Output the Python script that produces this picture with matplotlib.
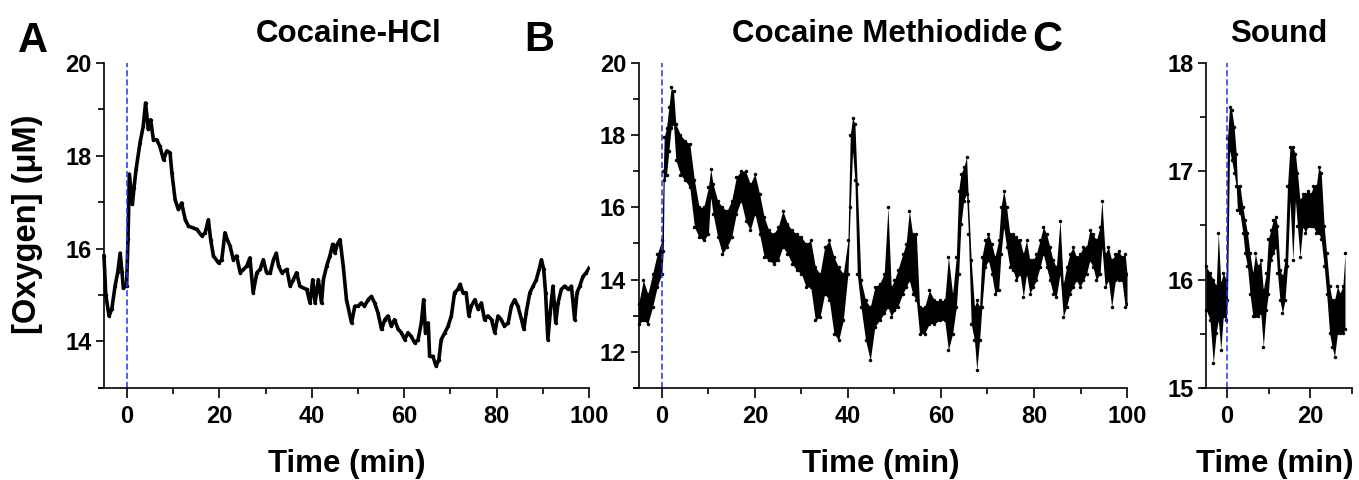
import matplotlib
matplotlib.use("Agg")
import matplotlib.pyplot as plt
from matplotlib.ticker import MultipleLocator

plt.rcParams["font.family"] = ["Liberation Sans", "DejaVu Sans"]
plt.rcParams["font.weight"] = "bold"

# Panel A - Cocaine-HCl (single trace)
a_time = [-5.0, -4.6, -3.9, -3.3, -2.6, -2.0, -1.5, -1.1, -0.8, -0.1, 0.2, 0.5,
          0.8, 1.15, 1.5, 1.95, 2.8, 3.5, 4.0, 4.6, 5.1, 5.7, 6.4, 7.1, 7.9,
          8.6, 9.3, 9.7, 10.4, 11.1, 11.8, 12.6, 13.3, 14.4, 15.1, 16.2, 16.9,
          17.6, 18.1, 18.7, 19.8, 20.5, 21.2, 21.7, 22.3, 23.0, 23.7, 24.5,
          25.2, 25.9, 26.6, 27.3, 28.1, 28.8, 29.5, 30.2, 31.0, 31.7, 32.3,
          32.8, 33.5, 34.6, 35.3, 36.0, 36.7, 37.4, 38.2, 38.9, 39.6, 40.2,
          40.7, 41.4, 42.1, 42.5, 43.2, 43.9, 44.5, 45.0, 45.5, 46.1, 46.8,
          47.5, 48.6, 49.3, 50.0, 50.7, 51.4, 52.2, 52.9, 53.6, 54.3, 55.1,
          55.8, 56.5, 57.2, 57.9, 58.7, 59.4, 60.1, 60.8, 61.5, 62.3, 63.0,
          63.7, 64.2, 64.6, 65.2, 65.5, 66.2, 66.9, 67.5, 68.0, 68.8, 69.5,
          70.2, 70.9, 71.6, 72.1, 72.7, 73.4, 74.0, 74.5, 75.3, 76.0, 76.7,
          77.4, 78.1, 78.9, 79.6, 80.3, 81.0, 81.7, 82.5, 83.2, 83.9, 84.6,
          85.4, 85.9, 86.4, 87.2, 87.9, 88.6, 89.2, 89.7, 90.2, 90.6, 91.1,
          91.6, 92.2, 92.8, 93.3, 94.0, 94.7, 95.5, 96.2, 96.9, 97.4, 98.0,
          98.7, 99.4, 100.0]
a_oxygen = [15.84, 15.0, 14.55, 14.7, 15.19, 15.5, 15.9, 15.5, 15.15, 15.2, 16.2,
            17.6, 17.3, 16.95, 17.3, 17.7, 18.27, 18.63, 19.13, 18.56, 18.77,
            18.34, 18.34, 18.2, 17.91, 18.1, 18.06, 17.63, 17.05, 16.84, 16.98,
            16.62, 16.48, 16.44, 16.41, 16.27, 16.34, 16.62, 16.19, 15.84,
            15.69, 15.76, 16.34, 16.19, 16.05, 15.76, 15.84, 15.48, 15.55,
            15.62, 15.8, 15.05, 15.48, 15.55, 15.76, 15.48, 15.48, 15.76, 15.9,
            15.62, 15.48, 15.55, 15.19, 15.33, 15.48, 15.19, 15.15, 15.12,
            14.83, 15.33, 14.83, 15.33, 14.83, 15.33, 15.62, 15.84, 16.09,
            15.9, 16.09, 16.19, 15.62, 14.9, 14.4, 14.76, 14.76, 14.83, 14.76,
            14.9, 14.97, 14.83, 14.62, 14.26, 14.47, 14.55, 14.33, 14.47,
            14.26, 14.19, 14.04, 14.19, 14.11, 13.97, 14.04, 14.4, 14.9, 14.19,
            14.4, 13.68, 13.68, 13.47, 13.61, 14.04, 14.19, 14.33, 14.55,
            15.05, 15.12, 15.23, 15.05, 15.05, 14.55, 14.76, 14.9, 14.69,
            14.83, 14.47, 14.55, 14.47, 14.19, 14.55, 14.47, 14.33, 14.4,
            14.76, 14.9, 14.76, 14.47, 14.26, 14.62, 15.05, 15.19, 15.33,
            15.55, 15.76, 15.55, 15.05, 14.04, 14.62, 15.19, 14.4, 14.83,
            15.12, 15.19, 15.12, 15.19, 14.47, 15.05, 15.19, 15.4, 15.48, 15.58]

# Panel B - Cocaine Methiodide (noisy band: upper / lower edge)
b_time = [-5, -4, -3, -2, -1, 0, 0.3, 0.5, 1, 1.5, 2, 2.5, 3, 4, 5, 6, 7, 8, 9,
          10, 10.5, 11, 12, 13, 14, 15, 16, 17, 18, 19, 20, 21, 22, 23, 24, 25,
          26, 27, 28, 29, 30, 31, 32, 33, 34, 35, 36, 37, 38, 39, 40, 40.5, 41,
          41.5, 42, 42.8, 43.8, 44.8, 45.8, 46.8, 47.8, 48.6, 49.3, 50, 50.7,
          51.8, 52.5, 53.2, 53.9, 54.7, 55.4, 56.5, 57.5, 58.6, 59.7, 60.8,
          61.6, 62.5, 63.3, 63.8, 64.3, 64.9, 65.5, 65.9, 66.5, 67.2, 67.7,
          68.3, 68.8, 69.5, 70.2, 70.9, 71.6, 72.4, 72.9, 73.5, 74.1, 74.8,
          75.5, 76.2, 77.0, 77.7, 78.4, 79.1, 79.8, 80.5, 81.3, 82.0, 82.7,
          83.4, 84.1, 84.8, 85.6, 86.3, 87.0, 87.7, 88.4, 89.1, 89.9, 90.6,
          91.3, 92.0, 92.7, 93.4, 94.2, 94.6, 95.3, 96.0, 96.7, 97.5, 98.2,
          98.9, 99.6, 100]
b_high = [13.33, 13.98, 13.6, 14.16, 14.71, 15.08, 17.0, 17.93, 18.2, 18.76,
          19.31, 19.2, 18.3, 18.0, 17.84, 17.75, 16.74, 16.0, 16.0, 16.55,
          17.06, 16.64, 16.18, 16.0, 15.9, 16.18, 16.83, 17.0, 17.0, 16.64,
          16.92, 16.37, 15.72, 15.36, 15.26, 15.45, 15.9, 15.54, 15.36, 15.26,
          15.17, 14.99, 15.08, 14.34, 14.16, 14.9, 15.08, 14.62, 14.34, 14.16,
          15.08, 18.0, 18.48, 18.3, 16.64, 13.98, 13.42, 13.24, 13.8, 13.88,
          14.16, 16.0, 13.8, 13.98, 14.25, 14.71, 14.99, 15.9, 15.26, 15.26,
          13.24, 13.24, 13.7, 13.42, 13.42, 13.42, 14.62, 13.6, 14.62, 16.46,
          16.92, 17.1, 17.38, 16.18, 14.53, 13.24, 13.42, 13.24, 14.62, 15.08,
          15.26, 14.99, 14.62, 15.08, 16.0, 16.46, 16.0, 15.26, 15.26, 15.17,
          15.08, 14.71, 15.08, 14.53, 14.53, 14.71, 15.08, 15.45, 15.26, 14.9,
          14.53, 14.34, 15.63, 13.88, 14.34, 14.71, 14.9, 14.62, 14.71, 14.9,
          14.9, 15.36, 15.26, 15.08, 15.45, 16.18, 14.71, 14.9, 14.53, 14.71,
          14.8, 14.62, 14.71, 14.16]
b_low = [12.78, 12.87, 12.78, 13.24, 13.79, 14.16, 14.8, 16.74, 16.9, 17.56,
         18.2, 18.3, 17.3, 16.9, 16.74, 16.55, 15.45, 15.17, 15.08, 15.26,
         16.28, 15.82, 15.17, 14.71, 14.9, 15.17, 15.82, 16.18, 15.63, 15.36,
         15.82, 15.26, 14.62, 14.53, 14.44, 14.53, 14.9, 14.71, 14.44, 14.25,
         14.16, 13.79, 13.79, 12.87, 12.97, 13.61, 13.42, 12.5, 12.32, 12.87,
         14.16, 16.0, 17.56, 16.74, 14.16, 13.24, 12.32, 11.77, 12.7, 12.87,
         13.06, 13.24, 12.97, 13.15, 13.24, 13.61, 13.79, 13.98, 13.61, 13.42,
         12.5, 12.5, 12.78, 12.78, 12.87, 12.87, 12.05, 12.5, 13.24, 14.16,
         15.54, 16.18, 16.37, 15.26, 12.78, 12.32, 11.5, 12.32, 13.24, 14.34,
         14.53, 14.16, 13.61, 13.7, 14.71, 15.45, 14.9, 14.34, 14.25, 13.98,
         14.16, 13.52, 14.16, 13.61, 13.79, 13.98, 14.34, 14.71, 14.34, 13.98,
         13.61, 13.52, 14.16, 12.97, 13.24, 13.61, 13.79, 13.98, 13.79, 13.98,
         14.16, 14.53, 14.34, 13.98, 14.16, 14.9, 13.79, 13.98, 13.24, 13.98,
         13.98, 13.98, 13.24, 13.33]

# Panel C - Sound
c_time = [-5, -4.1, -3.3, -2.6, -2.1, -1.5, -0.9, -0.2, 0.1, 0.6, 1.1, 1.7, 2.2,
          2.5, 3.1, 3.8, 4.3, 4.9, 5.5, 6.2, 6.8, 7.4, 8.1, 8.7, 9.4, 9.9, 10.5,
          11.1, 11.7, 12.1, 12.7, 13.3, 13.9, 14.5, 15.1, 15.8, 16.4, 16.9,
          17.5, 18.2, 18.8, 19.4, 20.1, 20.7, 21.4, 22.0, 22.6, 23.3, 23.9,
          24.6, 25.2, 25.8, 26.5, 27.1, 27.8, 28.3]
c_high = [16.12, 16.06, 16.0, 15.94, 16.43, 15.97, 16.06, 16.0, 17.3, 17.59,
          17.56, 17.41, 17.16, 16.86, 16.86, 16.67, 16.55, 16.43, 16.24, 16.06,
          16.24, 16.12, 16.18, 15.9, 16.06, 16.37, 16.46, 16.55, 16.58, 16.49,
          16.09, 16.03, 16.18, 16.86, 17.22, 17.22, 17.16, 16.98, 16.73, 16.79,
          16.79, 16.82, 16.79, 16.86, 16.86, 17.04, 16.98, 16.49, 16.24, 15.94,
          15.81, 15.81, 15.94, 15.87, 15.94, 16.24]
c_low = [15.72, 15.63, 15.23, 15.51, 15.63, 15.35, 15.66, 15.63, 15.81, 17.19,
         17.1, 16.98, 16.86, 16.64, 16.61, 16.43, 16.24, 16.12, 15.87, 15.66,
         15.66, 15.66, 15.69, 15.38, 15.72, 15.87, 16.18, 16.24, 16.3, 16.06,
         15.81, 15.69, 15.81, 16.12, 16.73, 16.18, 16.73, 16.49, 16.21, 16.49,
         16.43, 16.49, 16.49, 16.49, 16.43, 16.43, 16.37, 16.12, 15.87, 15.51,
         15.38, 15.29, 15.51, 15.51, 15.51, 15.54]

fig = plt.figure(figsize=(13.59, 4.8), dpi=100)

axA = fig.add_axes([0.0731, 0.1917, 0.3603, 0.678])
axB = fig.add_axes([0.4665, 0.1917, 0.3628, 0.678])
axC = fig.add_axes([0.8845, 0.1917, 0.1104, 0.678])

axA.plot(a_time, a_oxygen, color="black", lw=2.6, marker=".", ms=3)

axB.fill_between(b_time, b_low, b_high, color="black", lw=0)
axB.plot(b_time, b_high, ".", color="black", ms=3)
axB.plot(b_time, b_low, ".", color="black", ms=3)

axC.fill_between(c_time, c_low, c_high, color="black", lw=0)
axC.plot(c_time, c_high, ".", color="black", ms=3)
axC.plot(c_time, c_low, ".", color="black", ms=3)

limits = [(axA, 100, 13, 20, 2), (axB, 100, 11, 20, 2), (axC, 30, 15, 18, 1)]
for ax, xmax, ymin, ymax, ystep in limits:
    ax.axvline(0, color="#1f2fff", lw=1.1, ls=(0, (4, 2)))
    ax.set_xlim(-6, xmax)
    ax.set_ylim(ymin, ymax)
    ax.spines["top"].set_visible(False)
    ax.spines["right"].set_visible(False)
    ax.spines["left"].set_position(("data", -5))
    ax.spines["left"].set_linewidth(1.2)
    ax.spines["bottom"].set_linewidth(1.2)
    ax.xaxis.set_major_locator(MultipleLocator(20))
    ax.xaxis.set_minor_locator(MultipleLocator(10))
    ax.yaxis.set_major_locator(MultipleLocator(ystep))
    ax.yaxis.set_minor_locator(MultipleLocator(ystep / 2))
    ax.tick_params(which="both", direction="out", width=1.2, labelsize=17)
    ax.tick_params(which="major", length=6, pad=3)
    ax.tick_params(which="minor", length=4)
    ax.tick_params(axis="x", which="major", length=7, pad=5)
    ax.tick_params(axis="x", which="minor", length=4)

# titles, panel letters and axis labels
fig.text(349 / 1359, 1 - 42 / 480, "Cocaine-HCl", ha="center", va="baseline", fontsize=22.5)
fig.text(880 / 1359, 1 - 42 / 480, "Cocaine Methiodide", ha="center", va="baseline", fontsize=22.5)
fig.text(1279 / 1359, 1 - 42 / 480, "Sound", ha="center", va="baseline", fontsize=22.5)

fig.text(33 / 1359, 1 - 52 / 480, "A", ha="center", va="baseline", fontsize=30)
fig.text(539 / 1359, 1 - 51 / 480, "B", ha="center", va="baseline", fontsize=30)
fig.text(1047 / 1359, 1 - 51 / 480, "C", ha="center", va="baseline", fontsize=30)

for xc in [347, 881, 1275]:
    fig.text(xc / 1359, 1 - 472 / 480, "Time (min)", ha="center", va="baseline", fontsize=22.5)

fig.text(28 / 1359, 1 - 224 / 480, "[Oxygen] (\u03bcM)", ha="center", va="center",
         rotation=90, fontsize=23.5)

plt.savefig("out.png", dpi=100)
plt.close()
